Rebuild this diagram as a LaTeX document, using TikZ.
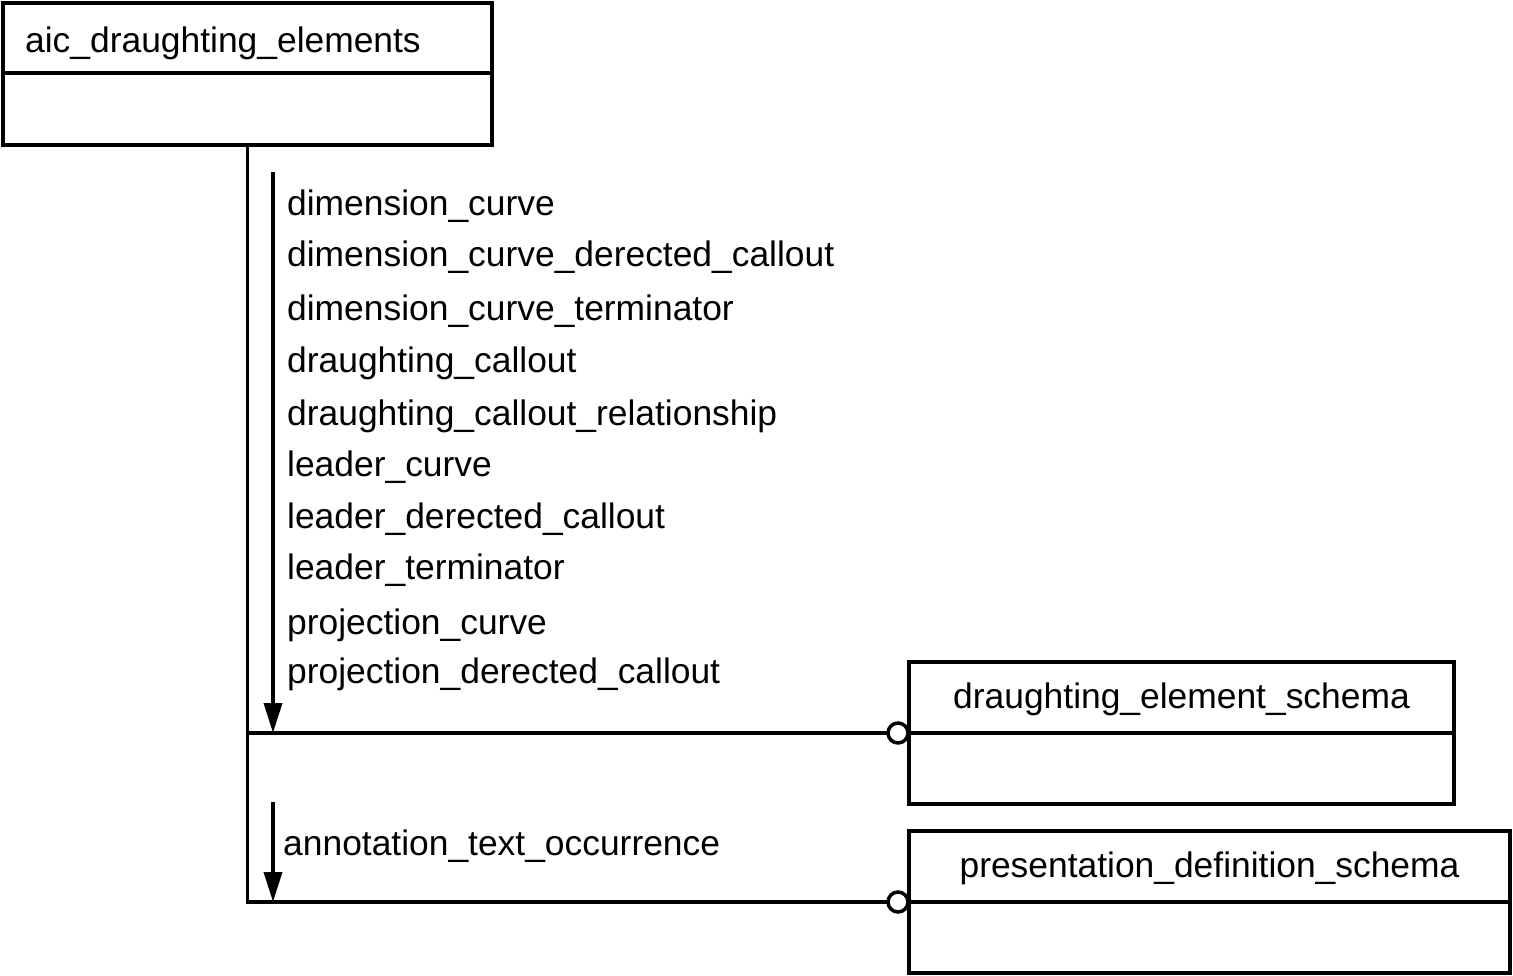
\documentclass[tikz,border=0pt]{standalone}
\usepackage{fontspec}
\setmainfont{Liberation Sans}
\usetikzlibrary{arrows.meta}
\tikzset{
  schemabox/.style={draw, line width=3.5pt, rectangle, anchor=north west, inner sep=0pt, outer sep=0pt},
  boxtitle/.style={anchor=base, inner sep=0pt},
  entitylabel/.style={anchor=base west, inner sep=0pt},
  link/.style={line width=3.5pt},
  flow/.style={line width=3.5pt, -{Triangle[length=30pt,width=18pt]}},
  ring/.style={circle, draw, line width=3.5pt, fill=white, minimum size=20pt, inner sep=0pt, outer sep=0pt}
}

\begin{document}
\begin{tikzpicture}[x=1pt,y=-1pt,font=\fontsize{35.4}{42}\selectfont]
\useasboundingbox (0,0) rectangle (1513,976);
\node[schemabox, minimum width=489pt, minimum height=142pt] (aic) at (3,3) {};
\draw[link] ([yshift=-70pt]aic.north west) -- ([yshift=-70pt]aic.north east);
\node[boxtitle, anchor=base west] (aictitle) at (25,53) {aic\_draughting\_elements};

\node[schemabox, minimum width=545pt, minimum height=142pt] (des) at (909,662) {};
\draw[link] ([yshift=-71pt]des.north west) -- ([yshift=-71pt]des.north east);
\node[boxtitle] (destitle) at (1181.5,708) {draughting\_element\_schema};

\node[schemabox, minimum width=601pt, minimum height=142pt] (pds) at (909,831) {};
\draw[link] ([yshift=-71pt]pds.north west) -- ([yshift=-71pt]pds.north east);
\node[boxtitle] (pdstitle) at (1209.5,877) {presentation\_definition\_schema};

\node[ring] (desring) at (898,733) {};
\node[ring] (pdsring) at (898,902) {};

\draw[link] (aic.south) |- (pdsring.west);
\draw[link] (aic.south |- desring) -- (desring.west);

\coordinate (flowtop) at (273,172);
\coordinate (flowlow) at (273,802);
\draw[flow] (flowtop) -- (flowtop |- desring);
\draw[flow] (flowlow) -- (flowlow |- pdsring);

\foreach \y/\name [count=\i] in {216/dimension\_curve, 267/dimension\_curve\_derected\_callout,
    321/dimension\_curve\_terminator, 373/draughting\_callout,
    425/draughting\_callout\_relationship, 476/leader\_curve,
    528/leader\_derected\_callout, 579/leader\_terminator,
    634/projection\_curve, 683/projection\_derected\_callout}
  \node[entitylabel] (item\i) at (287,\y) {\name};
\node[entitylabel] (itemano) at (283,855) {annotation\_text\_occurrence};
\end{tikzpicture}
\end{document}
